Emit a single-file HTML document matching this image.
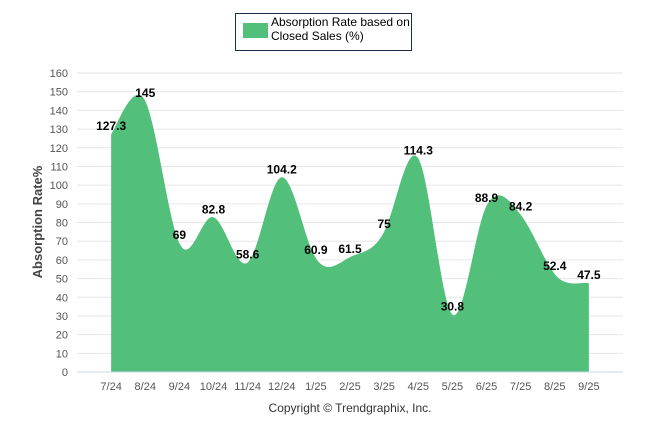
<!DOCTYPE html>
<html><head><meta charset="utf-8"><style>
body{margin:0;background:#fff;width:646px;height:434px;overflow:hidden;font-family:"Liberation Sans",sans-serif}
</style></head><body>
<svg width="646" height="434" font-family="Liberation Sans, sans-serif">
<g id="grid"></g>
<g id="yt"></g>
<path id="area" fill="#52c07a"/>
<g id="lbl"></g>
<line x1="77" y1="372" x2="623" y2="372" stroke="#ccd6eb"/>
<g id="xt"></g>
<text x="42" y="222" transform="rotate(-90 42 222)" text-anchor="middle" font-size="13" font-weight="bold" fill="#444">Absorption Rate%</text>
<g>
<rect x="235.5" y="13.5" width="176" height="37" fill="#fff" stroke="#1f2d4d"/>
<rect x="243" y="23" width="25" height="15" fill="#52c07a"/>
<text x="271" y="26" font-size="12" fill="#000"><tspan x="271" y="26">Absorption Rate based on</tspan><tspan x="271" y="40">Closed Sales (%)</tspan></text>
</g>
<text x="350" y="412" text-anchor="middle" font-size="12" fill="#333">Copyright © Trendgraphix, Inc.</text>
</svg>
<script>
const categories=["7/24","8/24","9/24","10/24","11/24","12/24","1/25","2/25","3/25","4/25","5/25","6/25","7/25","8/25","9/25"];
const values=[127.3,145,69,82.8,58.6,104.2,60.9,61.5,75,114.3,30.8,88.9,84.2,52.4,47.5];
const yTicks=[0,10,20,30,40,50,60,70,80,90,100,110,120,130,140,150,160];
const NS="http://www.w3.org/2000/svg";
const x0=77,x1=623,yBase=372,yTop=73;
const step=(x1-x0)/(categories.length+1);
const X=i=>x0+step*(i+1);
const Y=v=>yBase-(v/160)*(yBase-yTop);
function mk(t,a,p,txt){const e=document.createElementNS(NS,t);for(const k in a)e.setAttribute(k,a[k]);if(txt!==undefined)e.textContent=txt;p.appendChild(e);return e;}
const grid=document.getElementById('grid'),yt=document.getElementById('yt'),xt=document.getElementById('xt'),lbl=document.getElementById('lbl');
yTicks.forEach(v=>{
 if(v>0){const l=mk('line',{x1:x0,x2:x1,y1:Y(v),y2:Y(v),stroke:'#e6e6e6'},grid);
 
 }
 const t=mk('text',{x:68,y:Y(v)+4,'text-anchor':'end','font-size':'11',fill:'#555'},yt,String(v));
 
 
});
categories.forEach((c,i)=>{
 const t=mk('text',{x:X(i),y:390,'text-anchor':'middle','font-size':'11',fill:'#555'},xt,c);
 
 
});
const pts=values.map((v,i)=>[X(i),Y(v)]);
let d=`M${pts[0][0]},${yBase}L${pts[0][0]},${pts[0][1]}`;
const tt=0.5;
for(let i=0;i<pts.length-1;i++){
 const p0=pts[Math.max(0,i-1)],p1=pts[i],p2=pts[i+1],p3=pts[Math.min(pts.length-1,i+2)];
 const c1=[p1[0]+(p2[0]-p0[0])*tt/3,p1[1]+(p2[1]-p0[1])*tt/3*1.3];
 const c2=[p2[0]-(p3[0]-p1[0])*tt/3,p2[1]-(p3[1]-p1[1])*tt/3*1.3];
 d+=`C${c1[0]},${c1[1]} ${c2[0]},${c2[1]} ${p2[0]},${p2[1]}`;
}
d+=`L${pts[pts.length-1][0]},${yBase}Z`;
document.getElementById('area').setAttribute('d',d);
values.forEach((v,i)=>{
 const t=mk('text',{x:X(i),y:Y(v)-4,'text-anchor':'middle','font-size':'12','font-weight':'bold',fill:'#000'},lbl,String(v));
 
 
});
</script>
</body></html>
